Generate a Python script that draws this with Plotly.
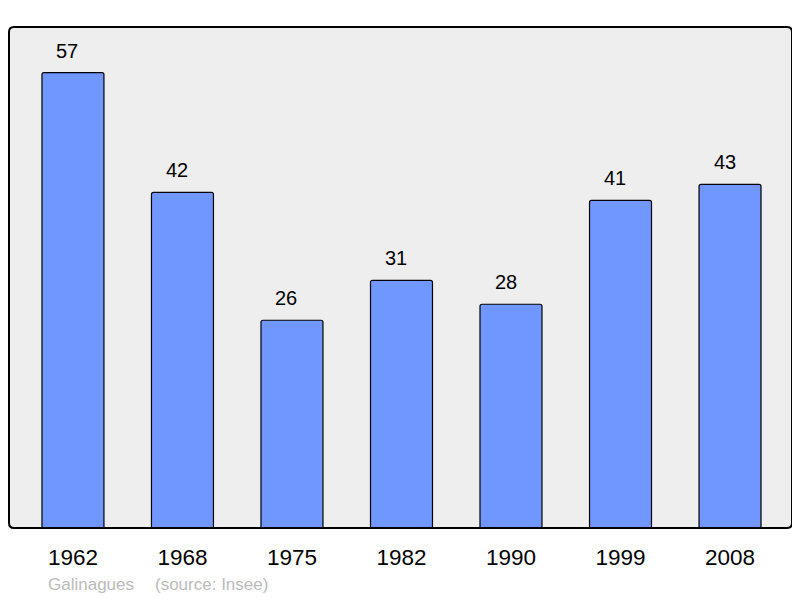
import plotly.graph_objects as go

years = ["1962", "1968", "1975", "1982", "1990", "1999", "2008"]
population = [57, 42, 26, 31, 28, 41, 43]
footer_name = "Galinagues"
footer_source = "(source: Insee)"

# page body has an 8px margin, so the figure is offset by 8px
OFF = 8
W, H = 800 - OFF, 598 - OFF
L, T = 9 - OFF, 27 - OFF
R = W - (792 - OFF)
B = H - (528 - OFF)
pw, ph = W - L - R, H - T - B

xs = list(range(len(years)))
fig = go.Figure()
fig.add_trace(go.Bar(
    x=xs, y=population, width=0.566,
    marker=dict(color="rgb(112,150,255)", line=dict(color="black", width=1.2), cornerradius=2),
    hoverinfo="skip",
))
for xi, v in zip(xs, population):
    fig.add_annotation(x=xi, y=v, text=str(v), showarrow=False, yshift=22, xshift=-5.5,
                       font=dict(size=20, color="black", family="Liberation Sans"))

# rounded border
rx, ry = 5 / pw, 5 / ph
path = (f"M {rx},0 L {1-rx},0 Q 1,0 1,{ry} L 1,{1-ry} Q 1,1 {1-rx},1 "
        f"L {rx},1 Q 0,1 0,{1-ry} L 0,{ry} Q 0,0 {rx},0 Z")
fig.add_shape(type="path", path=path, xref="paper", yref="paper",
              line=dict(color="black", width=2), layer="above")

def px_to_paper(xp, yp):
    return (xp - OFF - L) / pw, 1 - (yp - OFF - T) / ph

for txt, xp in [(footer_name, 46), (footer_source, 153)]:
    ax, ay = px_to_paper(xp, 584)
    fig.add_annotation(x=ax, y=ay, xref="paper", yref="paper", text=txt, showarrow=False,
                       xanchor="left", yanchor="middle",
                       font=dict(size=17, color="#bbbbbb", family="Liberation Sans"))

fig.update_layout(
    width=W, height=H,
    margin=dict(l=L, r=R, t=T, b=B, pad=0),
    paper_bgcolor="white", plot_bgcolor="#eeeeee",
    showlegend=False,
    font=dict(family="Liberation Sans"),
    xaxis=dict(range=[-0.584, 6.566], tickvals=xs, ticktext=years, showgrid=False, zeroline=False,
               ticks="outside", ticklen=9, tickcolor="rgba(0,0,0,0)",
               tickfont=dict(size=22.5, color="black"), fixedrange=True),
    yaxis=dict(range=[0, 62.7], showgrid=False, zeroline=False, showticklabels=False, fixedrange=True),
)
fig.write_html("out.html")
